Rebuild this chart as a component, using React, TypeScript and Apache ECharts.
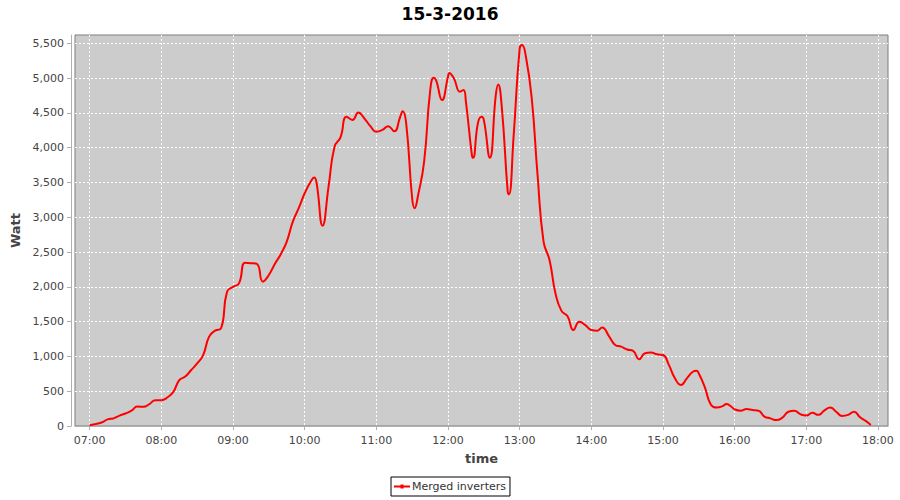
import React, { useEffect, useRef } from "react";
import * as echarts from "echarts";

const TITLE = "15-3-2016";
const SERIES_NAME = "Merged inverters";
const X_NAME = "time";
const Y_NAME = "Watt";

const times: string[] = [
  "07:00","07:05","07:10","07:15","07:20","07:25","07:30","07:35","07:40","07:45","07:50","07:55",
  "08:00","08:05","08:10","08:15","08:20","08:25","08:30","08:35","08:40","08:45","08:50","08:55",
  "09:00","09:05","09:10","09:15","09:20","09:25","09:30","09:35","09:40","09:45","09:50","09:55",
  "10:00","10:05","10:08","10:10","10:15","10:20","10:25","10:30","10:35","10:40","10:45","10:50","10:55",
  "11:00","11:05","11:10","11:15","11:20","11:22","11:25","11:30","11:32","11:35","11:40","11:45","11:48","11:50","11:55",
  "12:00","12:01","12:05","12:10","12:13","12:15","12:20","12:21","12:25","12:28","12:30","12:35","12:40","12:42","12:45","12:50","12:51","12:55",
  "13:00","13:02","13:05","13:10","13:15","13:20","13:25","13:30","13:35","13:40","13:45","13:50","13:55",
  "14:00","14:05","14:09","14:15","14:20","14:25","14:30","14:35","14:40","14:45","14:50","14:55",
  "15:00","15:05","15:10","15:15","15:20","15:25","15:28","15:30","15:35","15:40","15:45","15:50","15:53","15:57",
  "16:00","16:05","16:10","16:15","16:20","16:25","16:30","16:35","16:40","16:45","16:50","16:55",
  "17:00","17:05","17:10","17:15","17:20","17:25","17:30","17:35","17:40","17:45","17:50","17:54"
];

const watts: number[] = [
  10,30,50,95,110,150,180,220,280,275,315,370,
  370,410,490,660,710,805,900,1020,1285,1370,1405,1930,
  2000,2050,2345,2340,2330,2075,2170,2330,2470,2650,2935,3130,
  3345,3510,3570,3490,2880,3440,4015,4150,4445,4400,4505,4420,4310,
  4230,4255,4310,4235,4445,4525,4350,3270,3130,3320,3800,4805,5005,4970,4685,
  5020,5075,4995,4805,4830,4660,3895,3855,4350,4445,4400,3855,4755,4910,4590,3365,3330,4180,
  5425,5475,5330,4730,3605,2650,2385,1905,1655,1580,1380,1500,1450,
  1380,1370,1415,1285,1165,1140,1100,1080,960,1045,1055,1030,
  1020,875,685,590,685,780,795,755,560,310,265,285,315,280,
  240,220,245,230,220,135,110,85,120,205,220,170,
  150,190,160,220,265,205,145,160,205,125,70,15
];

const xTickLabels: string[] = [
  "07:00","08:00","09:00","10:00","11:00","12:00","13:00","14:00","15:00","16:00","17:00","18:00"
];
const yTicks: number[] = [0,500,1000,1500,2000,2500,3000,3500,4000,4500,5000,5500];

const toMin = (s: string) => {
  const [h, m] = s.split(":").map(Number);
  return h * 60 + m;
};
const fmtMin = (v: number) => {
  const h = Math.floor(v / 60);
  const m = Math.round(v - h * 60);
  return String(h).padStart(2, "0") + ":" + String(m).padStart(2, "0");
};
const fmtNum = (v: number) => String(v).replace(/\B(?=(\d{3})+(?!\d))/g, ",");

const FONT = "DejaVu Sans";
const LEGEND_ICON = "path://M0,1.5 L16,1.5 L16,3.5 L0,3.5 Z M6.5,0.5 L9.5,0.5 L9.5,4.5 L6.5,4.5 Z";

export default function App() {
  const ref = useRef<HTMLDivElement>(null);
  useEffect(() => {
    if (!ref.current) return;
    const chart = echarts.init(ref.current, undefined, { renderer: "svg" });
    const xTicks = xTickLabels.map(toMin);
    const data = times.map((t, i) => [toMin(t), watts[i]]);
    chart.setOption({
      animation: false,
      backgroundColor: "#ffffff",
      title: {
        text: TITLE,
        left: "center",
        top: 0,
        textStyle: { fontFamily: FONT, fontWeight: "bold", fontSize: 17, color: "#000000" },
      },
      grid: {
        left: 75,
        right: 12,
        top: 35,
        bottom: 74,
        show: true,
        backgroundColor: "#cccccc",
        borderColor: "#7f7f7f",
        borderWidth: 1,
        containLabel: false,
      },
      legend: {
        left: 391,
        top: 477,
        data: [{ name: SERIES_NAME, icon: LEGEND_ICON }],
        borderColor: "#000000",
        borderWidth: 1,
        padding: [4, 4, 4, 3],
        itemWidth: 16,
        itemHeight: 4,
        textStyle: { fontFamily: FONT, fontSize: 11, color: "#333333", padding: [0, 0, 0, -3] },
      },
      xAxis: {
        type: "value",
        min: 407.7,
        max: 1088.4,
        offset: 4,
        name: X_NAME,
        nameLocation: "middle",
        nameGap: 22,
        nameTextStyle: { fontFamily: FONT, fontWeight: "bold", fontSize: 13, color: "#444444" },
        axisLine: { show: true, lineStyle: { color: "#b0b0b0" } },
        axisTick: { show: true, length: 4, lineStyle: { color: "#b0b0b0" }, customValues: xTicks },
        axisLabel: {
          customValues: xTicks,
          formatter: (v: number) => fmtMin(v),
          fontFamily: FONT,
          fontSize: 11,
          color: "#444444",
          margin: 5,
        },
        splitLine: { show: true, lineStyle: { color: "#ffffff", type: [2, 2], width: 1 } },
      },
      yAxis: {
        type: "value",
        min: 0,
        max: 5620,
        offset: 4,
        name: Y_NAME,
        nameLocation: "middle",
        nameRotate: 90,
        nameGap: 42,
        nameTextStyle: { fontFamily: FONT, fontWeight: "bold", fontSize: 13, color: "#444444" },
        axisLine: { show: true, lineStyle: { color: "#b0b0b0" } },
        axisTick: { show: true, length: 4, lineStyle: { color: "#b0b0b0" }, customValues: yTicks },
        axisLabel: {
          customValues: yTicks,
          formatter: (v: number) => fmtNum(v),
          fontFamily: FONT,
          fontSize: 11,
          color: "#444444",
          margin: 7,
        },
        splitLine: { show: true, lineStyle: { color: "#ffffff", type: [2, 2], width: 1 } },
      },
      series: [
        {
          name: SERIES_NAME,
          type: "line",
          data,
          smooth: 0.5,
          symbol: "none",
          showSymbol: false,
          lineStyle: { color: "#ff0000", width: 2 },
          itemStyle: { color: "#ff0000" },
        },
      ],
    });
    return () => chart.dispose();
  }, []);
  return (
    <div
      ref={ref}
      style={{ position: "fixed", left: 0, top: 0, width: 900, height: 500 }}
    />
  );
}
